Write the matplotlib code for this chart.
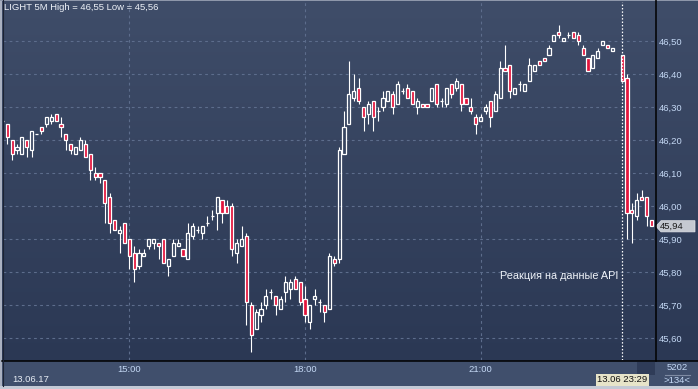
import matplotlib
matplotlib.use("Agg")
import matplotlib.pyplot as plt
import numpy as np
import pandas as pd
from matplotlib.colors import LinearSegmentedColormap
from matplotlib.lines import Line2D
from matplotlib.patches import Rectangle, Polygon

plt.rcParams["font.family"] = ["Liberation Sans", "DejaVu Sans"]

W, H = 698, 389

# 5-minute bars, LIGHT, 13.06.17 from 12:50 (nan = no trades)
NAN = float("nan")
opens = [
	46.26, 46.25, 46.20, 46.17, 46.16, 46.20, 46.17, 46.22, 46.24, 46.25,
	46.26, 46.28, 46.25, 46.22, 46.19, 46.16, 46.17, 46.19, 46.16, 46.10,
	46.10, 46.08, 46.03, 45.96, 45.92, 45.95, 45.90, 45.86, 45.82, 45.85,
	45.88, 45.89, 45.89, 45.90, 45.82, 45.85, 45.88, 45.87, 45.84, 45.91,
	45.93, 45.92, 45.95, 45.97, 45.98, 46.02, 46.00, 46.00, 45.86, 45.88,
	45.91, 45.70, 45.63, 45.67, 45.70, 45.74, 45.73, 45.69, 45.74, 45.75,
	45.78, 45.77, 45.72, 45.65, 45.72, 45.71, 45.70, 45.69, 45.84, 45.84,
	46.16, 46.25, 46.33, 46.36, 46.30, 46.28, 46.32, 46.29, 46.30, 46.32,
	46.34, 46.31, 46.35, 46.36, 46.35, 46.30, 46.31, 46.31, 46.32, 46.37,
	46.32, 46.31, 46.37, 46.36, 46.37, 46.33, 46.30, 46.27, 46.26, 46.29,
	46.32, 46.29, 46.33, 46.42, 46.43, 46.34, 46.37, 46.35, 46.38, 46.41,
	46.44, 46.45, 46.46, 46.50, 46.53, 46.50, 46.52, 46.53, 46.52, 46.48,
	46.45, 46.42, 46.45, 46.49, 46.49, 46.47, NAN, 46.46, 46.39, 45.99,
	45.97, 46.03, 46.03, 45.96,
]
highs = [
	46.26, 46.25, 46.20, 46.19, 46.21, 46.20, 46.23, 46.22, 46.24, 46.27,
	46.28, 46.28, 46.27, 46.22, 46.19, 46.18, 46.21, 46.20, 46.16, 46.12,
	46.10, 46.08, 46.04, 45.96, 45.94, 45.95, 45.90, 45.88, 45.87, 45.87,
	45.90, 45.90, 45.89, 45.90, 45.84, 45.90, 45.90, 45.87, 45.95, 45.95,
	45.94, 45.94, 45.97, 45.99, 46.03, 46.02, 46.02, 46.01, 45.90, 45.94,
	45.92, 45.71, 45.69, 45.71, 45.75, 45.75, 45.73, 45.73, 45.79, 45.78,
	45.79, 45.77, 45.76, 45.70, 45.75, 45.72, 45.70, 45.86, 45.85, 46.18,
	46.29, 46.44, 46.40, 46.39, 46.30, 46.32, 46.32, 46.30, 46.35, 46.35,
	46.35, 46.38, 46.36, 46.37, 46.35, 46.33, 46.31, 46.31, 46.36, 46.37,
	46.33, 46.36, 46.37, 46.39, 46.37, 46.33, 46.33, 46.28, 46.28, 46.31,
	46.32, 46.35, 46.44, 46.49, 46.43, 46.36, 46.38, 46.37, 46.45, 46.43,
	46.44, 46.45, 46.49, 46.52, 46.55, 46.51, 46.53, 46.53, 46.53, 46.49,
	46.45, 46.46, 46.48, 46.50, 46.49, 46.48, NAN, 46.46, 46.40, 46.01,
	46.04, 46.05, 46.03, 45.96,
]
lows = [
	46.26, 46.19, 46.14, 46.16, 46.16, 46.15, 46.15, 46.22, 46.22, 46.24,
	46.25, 46.26, 46.21, 46.17, 46.16, 46.16, 46.17, 46.15, 46.08, 46.08,
	46.07, 45.95, 45.92, 45.93, 45.86, 45.89, 45.81, 45.77, 45.81, 45.85,
	45.87, 45.87, 45.84, 45.83, 45.79, 45.85, 45.88, 45.85, 45.84, 45.90,
	45.92, 45.90, 45.94, 45.96, 45.93, 45.95, 45.98, 45.85, 45.83, 45.88,
	45.64, 45.56, 45.63, 45.65, 45.69, 45.72, 45.67, 45.69, 45.71, 45.72,
	45.75, 45.70, 45.65, 45.63, 45.70, 45.68, 45.65, 45.69, 45.82, 45.83,
	46.16, 46.25, 46.32, 46.31, 46.23, 46.25, 46.23, 46.26, 46.29, 46.32,
	46.28, 46.31, 46.34, 46.33, 46.31, 46.28, 46.30, 46.30, 46.32, 46.30,
	46.30, 46.30, 46.33, 46.35, 46.29, 46.31, 46.28, 46.22, 46.26, 46.28,
	46.24, 46.29, 46.33, 46.41, 46.33, 46.34, 46.35, 46.35, 46.38, 46.41,
	46.43, 46.44, 46.46, 46.50, 46.51, 46.50, 46.51, 46.51, 46.49, 46.46,
	46.41, 46.42, 46.45, 46.49, 46.48, 46.47, NAN, 46.38, 45.90, 45.89,
	45.96, 46.02, 45.94, 45.94,
]
closes = [
	46.26, 46.21, 46.16, 46.18, 46.21, 46.18, 46.23, 46.22, 46.23, 46.27,
	46.27, 46.26, 46.24, 46.20, 46.17, 46.18, 46.20, 46.15, 46.11, 46.09,
	46.09, 46.01, 45.95, 45.93, 45.93, 45.89, 45.85, 45.81, 45.86, 45.86,
	45.90, 45.90, 45.88, 45.83, 45.84, 45.89, 45.89, 45.85, 45.92, 45.94,
	45.93, 45.94, 45.95, 45.97, 46.03, 45.98, 45.98, 45.87, 45.89, 45.90,
	45.71, 45.61, 45.68, 45.69, 45.73, 45.74, 45.70, 45.72, 45.77, 45.77,
	45.75, 45.71, 45.67, 45.70, 45.73, 45.71, 45.68, 45.85, 45.83, 46.17,
	46.24, 46.34, 46.35, 46.32, 46.27, 46.31, 46.27, 46.29, 46.33, 46.35,
	46.30, 46.37, 46.35, 46.33, 46.31, 46.32, 46.30, 46.30, 46.36, 46.31,
	46.32, 46.36, 46.34, 46.38, 46.31, 46.31, 46.29, 46.25, 46.27, 46.30,
	46.27, 46.34, 46.42, 46.41, 46.35, 46.36, 46.37, 46.37, 46.43, 46.43,
	46.43, 46.44, 46.48, 46.52, 46.52, 46.51, 46.52, 46.51, 46.50, 46.46,
	46.41, 46.46, 46.47, 46.50, 46.48, 46.48, NAN, 46.38, 45.98, 45.98,
	46.02, 46.02, 45.97, 45.94,
]

start_time = "2017-06-13 12:50"
time_ticks = ["15:00", "18:00", "21:00"]
price_ticks = [45.6, 45.7, 45.8, 45.9, 46.0, 46.1, 46.2, 46.3, 46.4, 46.5]
cursor_time = "2017-06-13 23:29"
last_price = 45.94
title = "LIGHT 5M High = 46,55 Low = 45,56"
note = "Реакция на данные API"

RED = "#e3143c"
WHITE = "#ffffff"
GRID = "#5d6d8c"
LABEL = "#c4d8f4"


def fx(x):
	return x / W


def fy(y):
	return 1 - y / H


o = np.array(opens)
h = np.array(highs)
l = np.array(lows)
c = np.array(closes)
times = pd.date_range(start_time, periods=len(o), freq="5min")
idx = np.arange(len(o))

fig = plt.figure(figsize=(W / 100, H / 100), dpi=100)
fig.patch.set_facecolor("#404f6c")

# gradient background for plot + price scale
bg = fig.add_axes([0, fy(361), 1, 361 / H], zorder=0)
grad = np.linspace(0, 1, 256).reshape(-1, 1)
cmap = LinearSegmentedColormap.from_list("bg", ["#3f4d69", "#2b3854"])
bg.imshow(grad, aspect="auto", cmap=cmap, extent=[0, 1, 0, 1], origin="upper")
bg.axis("off")

ax = fig.add_axes([fx(3), fy(360), 652 / W, 358 / H], zorder=1)
ax.set_facecolor("none")
ax.set_xlim(0.12, 133.73)
ax.set_ylim(45.5348, 46.6197)

tick_pos = [int(np.where(times.strftime("%H:%M") == t)[0][0]) for t in time_ticks]
ax.set_xticks(tick_pos)
ax.set_xticklabels(time_ticks)
ax.set_yticks(price_ticks)
ax.set_yticklabels([f"{p:.2f}".replace(".", ",") for p in price_ticks])
ax.yaxis.tick_right()
ax.tick_params(axis="both", length=0, colors=LABEL, labelsize=6.8)
ax.tick_params(axis="y", pad=2.5)
ax.tick_params(axis="x", pad=3.5)
ax.grid(True, color=GRID, linestyle=(0, (2.5, 3)), linewidth=0.8)
ax.set_axisbelow(True)
for s in ax.spines.values():
	s.set_visible(False)

valid = ~np.isnan(o)
up = valid & (c >= o)
down = valid & (c < o)
top = np.maximum(o, c)
bot = np.minimum(o, c)

ax.vlines(idx[valid], top[valid], h[valid], color=WHITE, lw=0.8, zorder=2)
ax.vlines(idx[valid], l[valid], bot[valid], color=WHITE, lw=0.8, zorder=2)
ax.bar(idx[up], (top - bot)[up], bottom=bot[up], width=0.64,
	facecolor="none", edgecolor=WHITE, linewidth=0.9, zorder=3)
ax.bar(idx[down], (top - bot)[down], bottom=bot[down], width=0.64,
	facecolor=RED, edgecolor=WHITE, linewidth=0.9, zorder=3)

cursor_idx = int(times.searchsorted(pd.Timestamp(cursor_time).floor("5min")))
ax.axvline(cursor_idx, color=WHITE, lw=0.9, linestyle=(0, (1.2, 1.5)), zorder=4)

ax.text(0.762, 0.235, note, transform=ax.transAxes, color="#f0f4fa",
	fontsize=7.8, ha="left", va="center")

# separators and frame
fig.add_artist(Line2D([fx(655.5), fx(655.5)], [fy(0), fy(361)], color="black", lw=1.1))
fig.add_artist(Line2D([fx(2), fx(698)], [fy(361), fy(361)], color="black", lw=1.1))
fig.add_artist(Rectangle((0, 0), fx(2), 1, transform=fig.transFigure,
	facecolor="#aab1c1", edgecolor="none"))
fig.add_artist(Line2D([fx(2.5), fx(2.5)], [fy(0), fy(386)], color="#1c2333", lw=0.8))
fig.add_artist(Rectangle((0, 0), 1, 3 / H, transform=fig.transFigure,
	facecolor="#c3c9d5", edgecolor="none"))
fig.add_artist(Rectangle((0, fy(1)), 1, 1 / H, transform=fig.transFigure,
	facecolor="#8e97aa", edgecolor="none"))

fig.text(fx(4), fy(8), title, color="#eef2f8", fontsize=6.8, ha="left", va="center")
fig.text(fx(12), fy(380), "13.06.17", color="#e6ecf4", fontsize=6.8, ha="left", va="center")

# current price marker
yp = ax.transData.transform((0, last_price))[1] / fig.dpi / (H / 100)
ph = 5.6 / H
fig.add_artist(Polygon([(fx(656), yp), (fx(661), yp + ph), (fx(695), yp + ph),
	(fx(695), yp - ph), (fx(661), yp - ph)], closed=True, transform=fig.transFigure,
	facecolor="#c5c9d1", edgecolor="#e4e6ea", lw=0.5))
fig.text(fx(660), yp, f"{last_price:.2f}".replace(".", ","), color="#1a1a1a",
	fontsize=6.8, ha="left", va="center")

# time cursor label
fig.add_artist(Rectangle((fx(637), fy(375)), 18 / W, 13 / H, transform=fig.transFigure,
	facecolor="#2f3c58", edgecolor="none"))
fig.text(fx(597), fy(380), pd.Timestamp(cursor_time).strftime("%d.%m %H:%M"),
	color="#111111", fontsize=6.8, ha="left", va="center",
	bbox=dict(boxstyle="square,pad=0.15", facecolor="#e7e4c9", edgecolor="none"))

# bar counter box
fig.text(fx(677.5), fy(367), "5202", color=LABEL, fontsize=6.8, ha="center", va="center")
fig.add_artist(Line2D([fx(665), fx(690)], [fy(374.5), fy(374.5)], color="#7f8ba3", lw=0.8))
fig.text(fx(677.5), fy(380.5), ">134<", color=LABEL, fontsize=6.8, ha="center", va="center")

fig.savefig("out.png", dpi=100, facecolor=fig.get_facecolor())
